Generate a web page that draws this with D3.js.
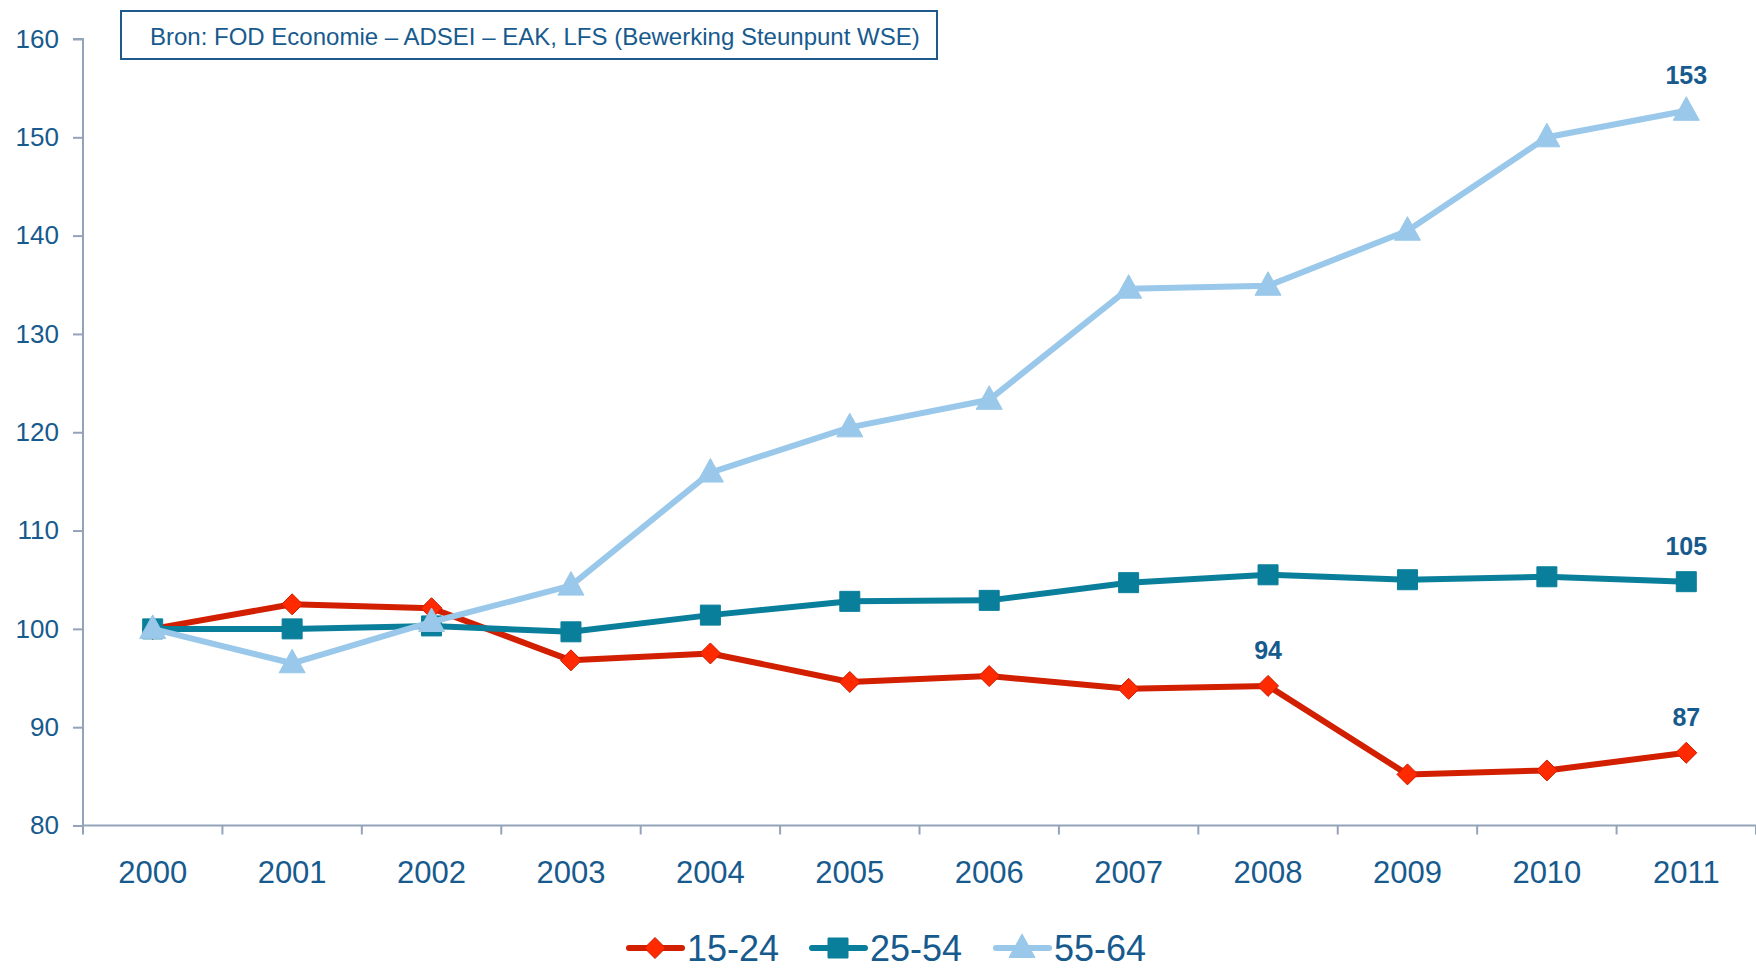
<!DOCTYPE html>
<html>
<head>
<meta charset="utf-8">
<script src="https://cdn.jsdelivr.net/npm/d3@7"></script>
<style>
  html, body { margin: 0; padding: 0; background: #fff; }
  svg { display: block; font-family: "Liberation Sans", Arial, sans-serif; }
</style>
</head>
<body>
<svg width="1756" height="968"></svg>
<script>
// Data
const years = ["2000","2001","2002","2003","2004","2005","2006","2007","2008","2009","2010","2011"];
const youth = [100, 102.5, 102.1, 96.8, 97.5, 94.6, 95.2, 93.9, 94.2, 85.2, 85.6, 87.4];
const core = [100, 100, 100.3, 99.7, 101.4, 102.8, 102.9, 104.7, 105.5, 105.0, 105.3, 104.8];
const older = [100, 96.5, 100.7, 104.4, 115.9, 120.5, 123.3, 134.6, 134.9, 140.5, 150.0, 152.7];
const series_names = ["15-24", "25-54", "55-64"];
const y_ticks = [80, 90, 100, 110, 120, 130, 140, 150, 160];
// labels shown on the chart: [series index, year index, text]
const point_labels = [[0, 8, "94"], [0, 11, "87"], [1, 11, "105"], [2, 11, "153"]];
const source_text = "Bron: FOD Economie \u2013 ADSEI \u2013 EAK, LFS (Bewerking Steunpunt WSE)";

const svg = d3.select("svg");
const text_color = "#175a8e";
const axis_color = "#93a3ba";
const plot_left = 83, plot_right = 1756, plot_top = 39, plot_bottom = 825.5;

const x = d3.scaleBand().domain(years).range([plot_left, plot_right]);
const y = d3.scaleLinear().domain([80, 160]).range([plot_bottom, plot_top]);

// y axis
const y_axis = svg.append("g")
  .attr("transform", `translate(${plot_left},0)`)
  .call(d3.axisLeft(y).tickValues(y_ticks).tickSize(10).tickPadding(14));
y_axis.select(".domain").attr("stroke", axis_color).attr("stroke-width", 2).attr("d", `M-10,${plot_top}H0V${plot_bottom}`);
y_axis.selectAll(".tick line").attr("stroke", axis_color).attr("stroke-width", 2);
y_axis.selectAll(".tick text")
  .attr("fill", text_color).attr("font-size", 26)
  .attr("font-family", "Liberation Sans, Arial, sans-serif");

// x axis
const x_axis = svg.append("g")
  .attr("transform", `translate(0,${plot_bottom})`)
  .call(d3.axisBottom(x).tickSize(0).tickPadding(35));
x_axis.select(".domain").attr("stroke", axis_color).attr("stroke-width", 2).attr("d", `M${plot_left},0H${plot_right}`);
x_axis.selectAll(".tick text")
  .attr("fill", text_color).attr("font-size", 31)
  .attr("font-family", "Liberation Sans, Arial, sans-serif");
// tick marks between the categories
const band_edges = years.map(d => x(d)).concat([plot_right]);
svg.append("g").selectAll("line")
  .data(band_edges)
  .enter()
  .append("line")
  .attr("x1", d => d).attr("x2", d => d)
  .attr("y1", plot_bottom).attr("y2", plot_bottom + 9)
  .attr("stroke", axis_color).attr("stroke-width", 2);

// series
const series = [
  {name: series_names[0], values: youth, line: "#d21f00", fill: "#ff2a00", stroke: "#c81b00", shape: "diamond"},
  {name: series_names[1], values: core, line: "#0a7f9b", fill: "#0a7f9b", stroke: "#0a7f9b", shape: "square"},
  {name: series_names[2], values: older, line: "#99c8ea", fill: "#99c8ea", stroke: "#99c8ea", shape: "triangle"}
];

const cx = d => x(d) + x.bandwidth() / 2;
const line = d3.line().x((d, i) => cx(years[i])).y(d => y(d));

function marker_path(shape){
  if (shape === "diamond") return "M0,-10.5L10.5,0L0,10.5L-10.5,0Z";
  if (shape === "square") return "M-10,-10H10V10H-10Z";
  return "M0,-14L13,9.5H-13Z";
}

series.forEach(function(s){
  const g = svg.append("g");
  g.append("path")
   .datum(s.values)
   .attr("d", line)
   .attr("fill", "none")
   .attr("stroke", s.line)
   .attr("stroke-width", 6)
   .attr("stroke-linejoin", "round");
  g.selectAll("path.marker")
   .data(s.values)
   .enter()
   .append("path")
   .attr("class", "marker")
   .attr("d", marker_path(s.shape))
   .attr("transform", (d, i) => `translate(${cx(years[i])},${y(d)})`)
   .attr("fill", s.fill)
   .attr("stroke", s.stroke)
   .attr("stroke-width", 1);
});

// value labels
svg.append("g").selectAll("text")
  .data(point_labels)
  .enter()
  .append("text")
  .attr("x", d => cx(years[d[1]]))
  .attr("y", d => y(series[d[0]].values[d[1]]) - 27)
  .attr("text-anchor", "middle")
  .attr("font-size", 25)
  .attr("font-weight", "bold")
  .attr("fill", text_color)
  .text(d => d[2]);

// source box
svg.append("rect")
  .attr("x", 121).attr("y", 11).attr("width", 816).attr("height", 48)
  .attr("fill", "#fff").attr("stroke", "#1f5a8c").attr("stroke-width", 2);
svg.append("text")
  .attr("x", 150).attr("y", 45)
  .attr("font-size", 24)
  .attr("fill", text_color)
  .text(source_text);

// legend
const legend_x = [629, 812, 996];
const legend = svg.append("g").selectAll("g")
  .data(series)
  .enter()
  .append("g")
  .attr("transform", (d, i) => `translate(${legend_x[i]},948)`);
legend.append("line")
  .attr("x1", 0).attr("x2", 53).attr("y1", 0).attr("y2", 0)
  .attr("stroke", d => d.line).attr("stroke-width", 6).attr("stroke-linecap", "round");
legend.append("path")
  .attr("d", d => marker_path(d.shape))
  .attr("transform", "translate(26,0)")
  .attr("fill", d => d.fill).attr("stroke", d => d.stroke);
legend.append("text")
  .attr("x", 58).attr("y", 13)
  .attr("font-size", 36)
  .attr("fill", text_color)
  .text(d => d.name);
</script>
</body>
</html>
